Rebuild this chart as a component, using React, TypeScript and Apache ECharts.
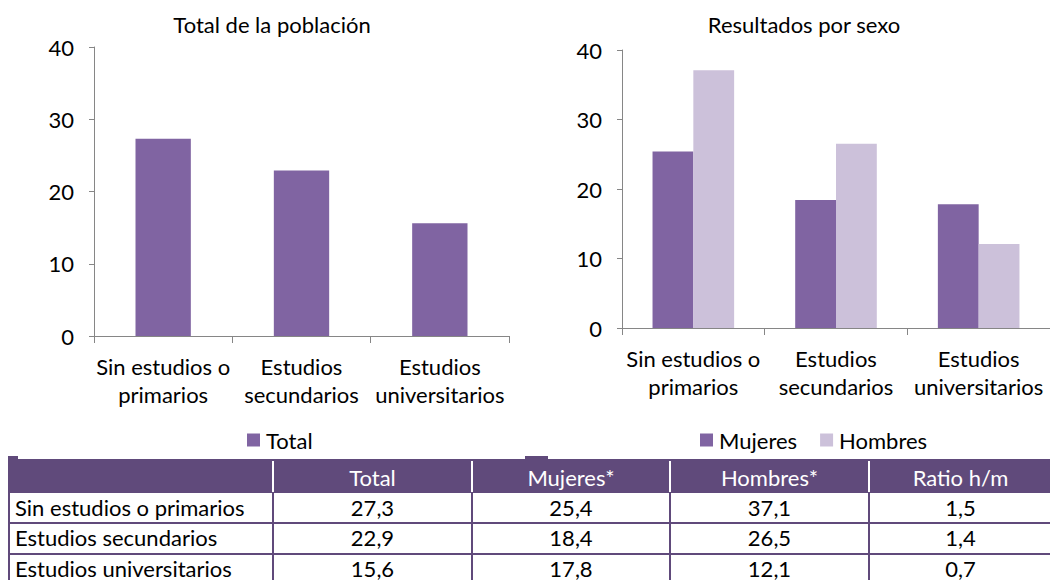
import React, { useEffect, useRef } from "react";
import * as echarts from "echarts";

const categories = ["Sin estudios o\nprimarios", "Estudios\nsecundarios", "Estudios\nuniversitarios"];
const totalValues = [27.3, 22.9, 15.6];
const mujeresValues = [25.4, 18.4, 17.8];
const hombresValues = [37.1, 26.5, 12.1];
const ratioValues = [1.5, 1.4, 0.7];
const tableRowLabels = ["Sin estudios o primarios", "Estudios secundarios", "Estudios universitarios"];
const tableHeaders = ["", "Total", "Mujeres*", "Hombres*", "Ratio h/m"];
const leftTitle = "Total de la población";
const rightTitle = "Resultados por sexo";

const DARK = "#8064A2";
const LIGHT = "#CCC1DA";
const HEAD = "#604A7B";
const FONT = "Lato, 'Noto Sans', sans-serif";
const FS = 22;

const fmt = (v: number) => v.toFixed(1).replace(".", ",");

export default function App() {
  const ref = useRef<HTMLDivElement>(null);
  useEffect(() => {
    if (!ref.current) return;
    const chart = echarts.init(ref.current, null, { renderer: "svg" });

    const colX = [8, 273, 472, 670, 869, 1052];
    const rowY = [459, 493, 523, 554, 586];
    const graphics: any[] = [];
    // titles
    graphics.push({ type: "text", x: 272, y: 24, style: { text: leftTitle, align: "center", verticalAlign: "middle", font: `${FS}px ${FONT}`, fill: "#000" } });
    graphics.push({ type: "text", x: 804, y: 24, style: { text: rightTitle, align: "center", verticalAlign: "middle", font: `${FS}px ${FONT}`, fill: "#000" } });
    // table header
    graphics.push({ type: "rect", shape: { x: colX[0], y: rowY[0], width: colX[5] - colX[0], height: rowY[1] - rowY[0] }, style: { fill: HEAD } });
    graphics.push({ type: "rect", shape: { x: 8, y: 456, width: 10, height: 4 }, style: { fill: HEAD } });
    graphics.push({ type: "rect", shape: { x: 525, y: 456, width: 23, height: 4 }, style: { fill: HEAD } });
    for (let c = 1; c < 5; c++) {
      graphics.push({ type: "line", shape: { x1: colX[c], y1: rowY[0] + 2, x2: colX[c], y2: rowY[1] - 1 }, style: { stroke: "#fff", lineWidth: 2 } });
      graphics.push({ type: "line", shape: { x1: colX[c], y1: rowY[1], x2: colX[c], y2: rowY[4] }, style: { stroke: HEAD, lineWidth: 2 } });
    }
    graphics.push({ type: "line", shape: { x1: 9, y1: rowY[1], x2: 9, y2: rowY[4] }, style: { stroke: HEAD, lineWidth: 2 } });
    for (let r = 2; r < 4; r++) {
      graphics.push({ type: "line", shape: { x1: 8, y1: rowY[r], x2: 1052, y2: rowY[r] }, style: { stroke: HEAD, lineWidth: 2 } });
    }
    tableHeaders.forEach((h, c) => {
      if (!h) return;
      graphics.push({ type: "text", x: (colX[c] + colX[c + 1]) / 2, y: (rowY[0] + rowY[1]) / 2 + 1, style: { text: h, align: "center", verticalAlign: "middle", font: `${FS}px ${FONT}`, fill: "#fff" } });
    });
    tableRowLabels.forEach((lab, r) => {
      const cy = rowY[r + 1] + 14;
      graphics.push({ type: "text", x: 15, y: cy, style: { text: lab, align: "left", verticalAlign: "middle", font: `${FS}px ${FONT}`, fill: "#000" } });
      const vals = [totalValues[r], mujeresValues[r], hombresValues[r], ratioValues[r]];
      vals.forEach((v, i) => {
        const c = i + 1;
        graphics.push({ type: "text", x: (colX[c] + colX[c + 1]) / 2, y: cy, style: { text: fmt(v), align: "center", verticalAlign: "middle", font: `${FS}px ${FONT}`, fill: "#000" } });
      });
    });

    const axisLine = { show: true, lineStyle: { color: "#868686", width: 1 } };
    const xAxisCommon = {
      type: "category" as const,
      data: categories,
      axisLine,
      axisTick: { show: true, length: 7, lineStyle: { color: "#868686" } },
      axisLabel: { fontSize: FS, fontFamily: FONT, color: "#000", lineHeight: 28, margin: 16, interval: 0 },
    };
    const yAxisCommon = {
      type: "value" as const,
      min: 0,
      max: 40,
      interval: 10,
      axisLine,
      axisTick: { show: true, length: 5, lineStyle: { color: "#868686" } },
      splitLine: { show: false },
      axisLabel: { fontSize: FS, fontFamily: FONT, color: "#000", margin: 20 },
    };

    chart.setOption({
      animation: false,
      textStyle: { fontFamily: FONT },
      grid: [
        { left: 94, top: 47, width: 415, height: 289 },
        { left: 622, top: 50, width: 430, height: 278 },
      ],
      xAxis: [
        { ...xAxisCommon, gridIndex: 0 },
        { ...xAxisCommon, gridIndex: 1 },
      ],
      yAxis: [
        { ...yAxisCommon, gridIndex: 0 },
        { ...yAxisCommon, gridIndex: 1 },
      ],
      legend: [
        { data: ["Total"], left: 242, top: 424, itemWidth: 13, itemHeight: 13, icon: "rect", textStyle: { fontSize: FS, fontFamily: FONT, color: "#000", padding: [0, 0, 0, 1] } },
        { data: ["Mujeres", "Hombres"], left: 695, top: 424, itemWidth: 13, itemHeight: 13, itemGap: 23, icon: "rect", textStyle: { fontSize: FS, fontFamily: FONT, color: "#000", padding: [0, 0, 0, 1] } },
      ],
      series: [
        { name: "Total", type: "bar", xAxisIndex: 0, yAxisIndex: 0, data: totalValues, barWidth: "40%", itemStyle: { color: DARK } },
        { name: "Mujeres", type: "bar", xAxisIndex: 1, yAxisIndex: 1, data: mujeresValues, barWidth: "28.6%", barGap: "0%", itemStyle: { color: DARK } },
        { name: "Hombres", type: "bar", xAxisIndex: 1, yAxisIndex: 1, data: hombresValues, barWidth: "28.6%", barGap: "0%", itemStyle: { color: LIGHT } },
      ],
      graphic: graphics,
    });
    return () => chart.dispose();
  }, []);
  return <div ref={ref} style={{ position: "absolute", left: 0, top: 0, width: 1050, height: 580 }} />;
}
